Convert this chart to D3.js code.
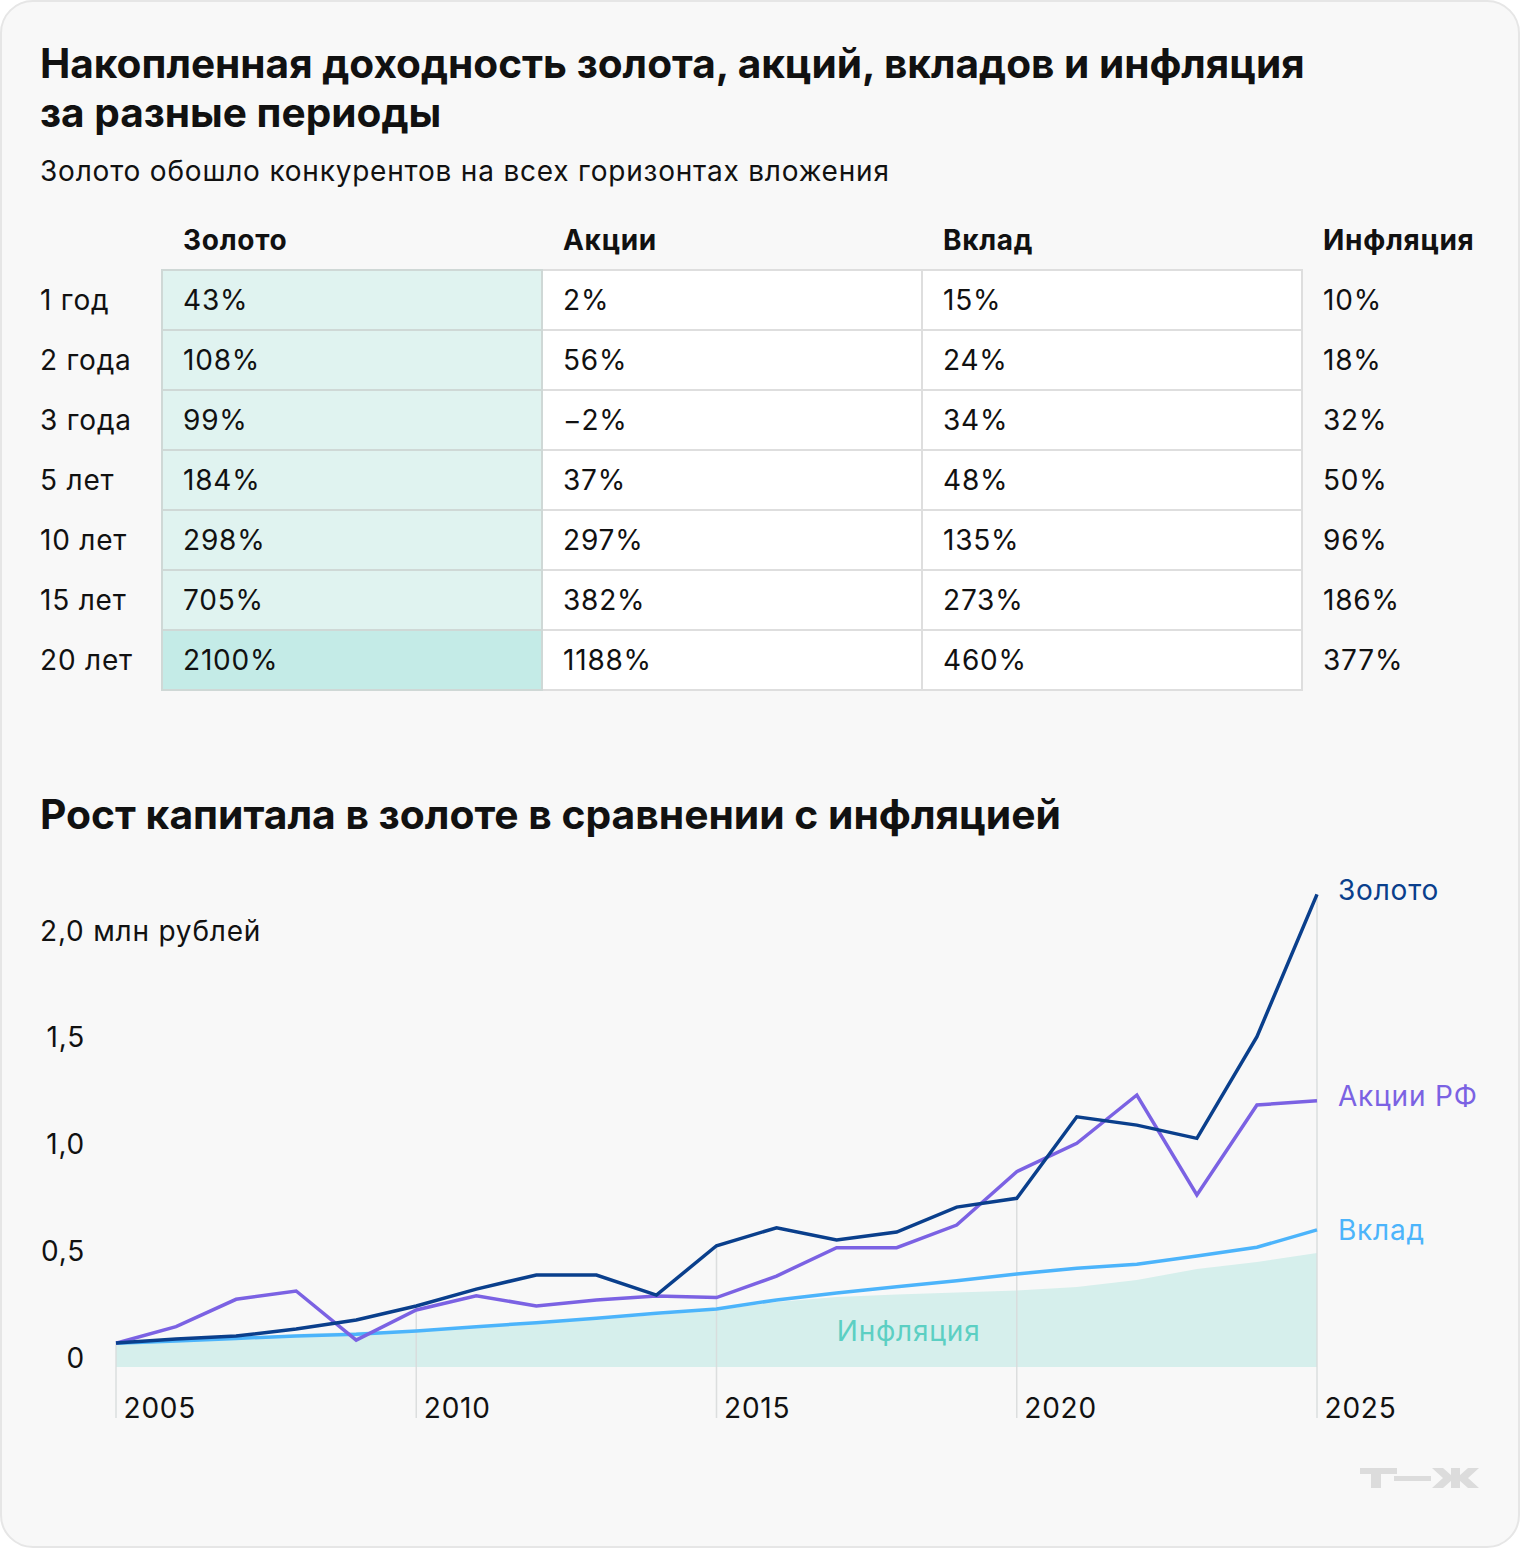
<!DOCTYPE html>
<html lang="ru">
<head>
<meta charset="utf-8">
<script src="https://cdn.jsdelivr.net/npm/d3@7/dist/d3.min.js"></script>
<style>
  html, body { margin: 0; padding: 0; background: #ffffff; }
  svg { display: block; font-family: Inter, Roboto, "Noto Sans", sans-serif; }
</style>
</head>
<body>
<svg id="chart" width="1520" height="1548"></svg>
<script>
// ---------- Table data ----------
const periods = ["1 год", "2 года", "3 года", "5 лет", "10 лет", "15 лет", "20 лет"];
const tableColumns = ["Золото", "Акции", "Вклад", "Инфляция"];
const goldReturns = [43, 108, 99, 184, 298, 705, 2100];
const stockReturns = [2, 56, -2, 37, 297, 382, 1188];
const depositReturns = [15, 24, 34, 48, 135, 273, 460];
const inflationReturns = [10, 18, 32, 50, 96, 186, 377];

// ---------- Line chart data (млн рублей) ----------
const years = [2005, 2006, 2007, 2008, 2009, 2010, 2011, 2012, 2013, 2014, 2015,
               2016, 2017, 2018, 2019, 2020, 2021, 2022, 2023, 2024, 2025];
const goldValues = [0.112, 0.131, 0.145, 0.178, 0.220, 0.286, 0.365, 0.431, 0.431, 0.337, 0.568,
                    0.652, 0.595, 0.632, 0.749, 0.790, 1.172, 1.133, 1.071, 1.547, 2.214];
const stockValues = [0.111, 0.189, 0.317, 0.356, 0.126, 0.267, 0.334, 0.286, 0.314, 0.333, 0.325,
                     0.426, 0.559, 0.559, 0.665, 0.915, 1.048, 1.274, 0.806, 1.227, 1.247];
const depositValues = [0.111, 0.122, 0.134, 0.145, 0.153, 0.169, 0.189, 0.207, 0.228, 0.252, 0.272,
                       0.314, 0.347, 0.376, 0.404, 0.436, 0.462, 0.481, 0.520, 0.561, 0.642];
const inflationValues = [0.111, 0.119, 0.131, 0.155, 0.164, 0.173, 0.187, 0.204, 0.222, 0.244, 0.267,
                         0.304, 0.328, 0.340, 0.349, 0.358, 0.375, 0.407, 0.459, 0.492, 0.534];
const xTickYears = [2005, 2010, 2015, 2020, 2025];
const yTickValues = [0, 0.5, 1, 1.5, 2];
const seriesNames = ["Золото", "Акции РФ", "Вклад", "Инфляция"];

// ---------- Styles ----------
const FONT = "Inter, Roboto, 'Noto Sans', sans-serif";
const FS = 28;       // regular text size
const LS = 0.8;      // letter spacing for regular text
const C = {
  gold: "#0a3f8c",
  stocks: "#7b62e3",
  deposit: "#4cb4fb",
  inflArea: "#d6efec",
  inflText: "#5ccfc3",
  grid: "#d9dcdc",
  text: "#111111",
  goldCell: "#e0f3f0",
  goldCellMax: "#c4ebe7",
  goldCellStroke: "#cfd8d6",
  cellStroke: "#dedede"
};

const svg = d3.select("#chart");

// Card
svg.append("rect")
  .attr("x", 1).attr("y", 1).attr("width", 1518).attr("height", 1546)
  .attr("rx", 32).attr("fill", "#f8f8f8").attr("stroke", "#e6e6e6").attr("stroke-width", 2);

// Titles
const title = svg.append("text").attr("font-weight", 700).attr("font-size", 40.6).attr("fill", C.text);
title.append("tspan").attr("x", 40).attr("y", 78).text("Накопленная доходность золота, акций, вкладов и инфляция");
title.append("tspan").attr("x", 40).attr("y", 127).text("за разные периоды");

svg.append("text").attr("x", 40).attr("y", 181).attr("font-size", FS).attr("letter-spacing", LS)
  .attr("fill", C.text).text("Золото обошло конкурентов на всех горизонтах вложения");

// ---------- Table ----------
const colX = d3.scaleBand().domain(tableColumns).range([162, 1682]).paddingInner(0).paddingOuter(0);
const rowY = d3.scaleBand().domain(periods).range([270, 690]);
const tableData = [goldReturns, stockReturns, depositReturns, inflationReturns];
const fmtPct = v => (v < 0 ? "−" + Math.abs(v) : String(v)) + "%";
const goldMax = d3.max(goldReturns);

// header
svg.append("g").selectAll("text").data(tableColumns).join("text")
  .attr("x", d => colX(d) + 21).attr("y", 250)
  .attr("font-size", 28).attr("letter-spacing", 0.7).attr("font-weight", 700).attr("fill", C.text)
  .text(d => d);

// cells (first three columns have backgrounds)
const cellG = svg.append("g");
tableColumns.slice(0, 3).forEach((col, ci) => {
  cellG.selectAll(null).data(periods).join("rect")
    .attr("x", colX(col)).attr("y", d => rowY(d))
    .attr("width", colX.bandwidth()).attr("height", rowY.bandwidth())
    .attr("fill", (d, i) => ci === 0 ? (tableData[0][i] === goldMax ? C.goldCellMax : C.goldCell) : "#ffffff")
    .attr("stroke", ci === 0 ? C.goldCellStroke : C.cellStroke)
    .attr("stroke-width", 2);
});
cellG.selectAll(null).data(periods).join("rect")
  .attr("x", colX("Золото")).attr("y", d => rowY(d))
  .attr("width", colX.bandwidth()).attr("height", rowY.bandwidth())
  .attr("fill", "none").attr("stroke", C.goldCellStroke).attr("stroke-width", 2);

// row labels
svg.append("g").selectAll("text").data(periods).join("text")
  .attr("x", 40).attr("y", d => rowY(d) + rowY.bandwidth() / 2 + 10)
  .attr("font-size", FS).attr("letter-spacing", LS).attr("fill", C.text).text(d => d);

// values
tableColumns.forEach((col, ci) => {
  svg.append("g").selectAll("text").data(tableData[ci]).join("text")
    .attr("x", colX(col) + 21)
    .attr("y", (d, i) => rowY(periods[i]) + rowY.bandwidth() / 2 + 10)
    .attr("font-size", FS).attr("letter-spacing", LS).attr("fill", C.text)
    .text(d => fmtPct(d));
});

// ---------- Line chart ----------
svg.append("text").attr("x", 40).attr("y", 829).attr("font-weight", 700).attr("font-size", 40.8)
  .attr("fill", C.text).text("Рост капитала в золоте в сравнении с инфляцией");

const x = d3.scaleLinear().domain([2005, 2025]).range([116, 1317]);
const y = d3.scaleLinear().domain([0, 2]).range([1367, 940]);
const baseY = 1418;

// inflation area
const area = d3.area().x((d, i) => x(years[i])).y0(y(0)).y1(d => y(d));
svg.append("path").datum(inflationValues).attr("d", area).attr("fill", C.inflArea);

// vertical grid lines (from gold line down to axis)
svg.append("g").selectAll("line").data(xTickYears).join("line")
  .attr("x1", d => x(d)).attr("x2", d => x(d))
  .attr("y1", d => y(goldValues[years.indexOf(d)]))
  .attr("y2", baseY)
  .attr("stroke", C.grid).attr("stroke-width", 1.5).attr("opacity", 0.9);

// y axis
const yAxis = d3.axisLeft(y).tickValues(yTickValues).tickSize(0).tickPadding(0)
  .tickFormat(d => d === 0 ? "0" : d3.format(".1f")(d).replace(".", ","));
const yG = svg.append("g").attr("transform", "translate(85,0)").call(yAxis);
yG.select(".domain").remove();
yG.selectAll("text").attr("dy", 0).attr("font-size", FS).attr("letter-spacing", LS)
  .attr("fill", C.text).attr("font-family", FONT);
yG.selectAll(".tick").filter(d => d === 2).select("text")
  .attr("text-anchor", "start").attr("x", -45)
  .text(d => d3.format(".1f")(d).replace(".", ",") + " млн рублей");

// x axis
const xAxis = d3.axisBottom(x).tickValues(xTickYears).tickSize(0).tickPadding(0).tickFormat(d3.format("d"));
const xG = svg.append("g").attr("transform", `translate(0,${baseY})`).call(xAxis);
xG.select(".domain").remove();
xG.selectAll("text").attr("y", 0).attr("dy", 0).attr("x", 7).attr("text-anchor", "start")
  .attr("font-size", FS).attr("letter-spacing", LS).attr("fill", C.text).attr("font-family", FONT);

// lines
const line = d3.line().x((d, i) => x(years[i])).y(d => y(d));
[[depositValues, C.deposit], [stockValues, C.stocks], [goldValues, C.gold]].forEach(([vals, col]) => {
  svg.append("path").datum(vals).attr("d", line)
    .attr("fill", "none").attr("stroke", col).attr("stroke-width", 3.5)
    .attr("stroke-linejoin", "miter").attr("stroke-linecap", "butt");
});

// series labels
const last = years.length - 1;
const labels = [
  { name: seriesNames[0], v: goldValues[last], col: C.gold, dy: -4 },
  { name: seriesNames[1], v: stockValues[last], col: C.stocks, dy: -5 },
  { name: seriesNames[2], v: depositValues[last], col: C.deposit, dy: 0 }
];
svg.append("g").selectAll("text").data(labels).join("text")
  .attr("x", x(2025) + 21).attr("y", d => y(d.v) + d.dy).attr("dy", "0.35em")
  .attr("font-size", FS).attr("letter-spacing", LS).attr("fill", d => d.col).text(d => d.name);

svg.append("text").attr("x", x(2018.2)).attr("y", y(0.12)).attr("text-anchor", "middle")
  .attr("font-size", FS).attr("letter-spacing", LS).attr("fill", C.inflText).text(seriesNames[3]);

// ---------- Logo Т—Ж ----------
const logo = svg.append("g").attr("fill", "#dcdcdc");
logo.append("rect").attr("x", 1360).attr("y", 1468).attr("width", 37).attr("height", 6);
logo.append("rect").attr("x", 1371).attr("y", 1468).attr("width", 10).attr("height", 20);
logo.append("rect").attr("x", 1394).attr("y", 1476).attr("width", 37).attr("height", 5);
logo.append("rect").attr("x", 1451).attr("y", 1468).attr("width", 9).attr("height", 20);
logo.append("path").attr("d",
  "M1432,1468 L1443,1468 L1452,1476 L1452,1480 L1443,1488 L1432,1488 L1443,1478 Z " +
  "M1479,1468 L1468,1468 L1459,1476 L1459,1480 L1468,1488 L1479,1488 L1468,1478 Z");
</script>
</body>
</html>
